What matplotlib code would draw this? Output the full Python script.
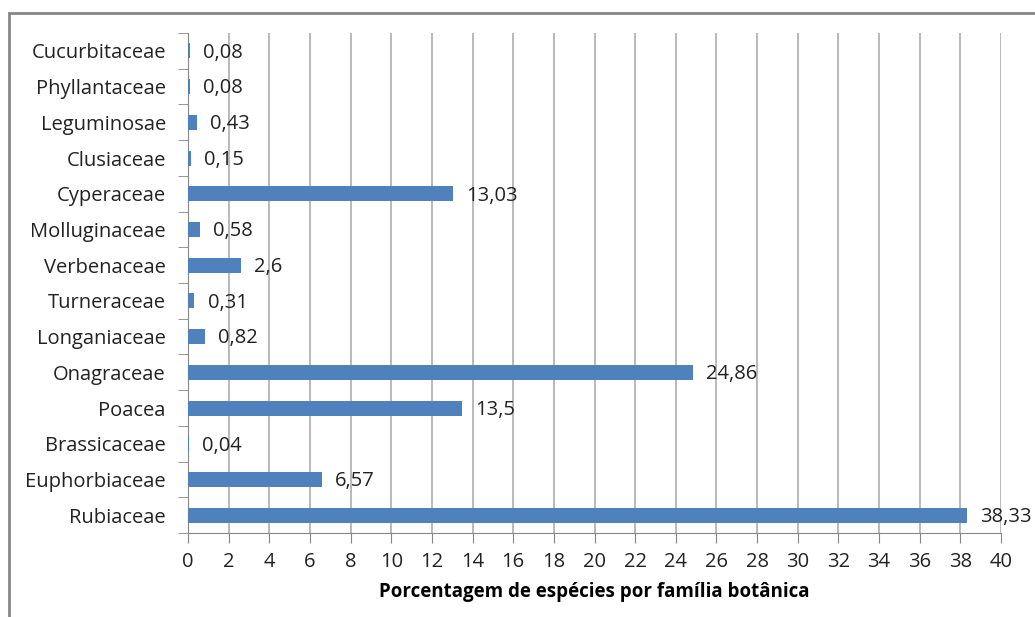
import matplotlib.pyplot as plt
from matplotlib.patches import Rectangle

familias = ['Rubiaceae', 'Euphorbiaceae', 'Brassicaceae', 'Poacea', 'Onagraceae',
            'Longaniaceae', 'Turneraceae', 'Verbenaceae', 'Molluginaceae',
            'Cyperaceae', 'Clusiaceae', 'Leguminosae', 'Phyllantaceae', 'Cucurbitaceae']
porcentagem = [38.33, 6.57, 0.04, 13.5, 24.86, 0.82, 0.31, 2.6, 0.58,
               13.03, 0.15, 0.43, 0.08, 0.08]
rotulos = ['38,33', '6,57', '0,04', '13,5', '24,86', '0,82', '0,31', '2,6', '0,58',
           '13,03', '0,15', '0,43', '0,08', '0,08']

plt.rcParams['font.family'] = ['Open Sans', 'DejaVu Sans']

fig = plt.figure(figsize=(10.35, 6.17), dpi=100)
ax = fig.add_axes([188 / 1035, 1 - 533 / 617, (1001 - 188) / 1035, 500 / 617])

# outer frame of the chart area (runs off the right and bottom edges)
fig.patches.append(Rectangle((9 / 1035, -0.1), 1.2, 1 - 13 / 617 + 0.1,
                             transform=fig.transFigure, fill=False,
                             edgecolor='#868686', linewidth=2))

y = range(len(familias))
ax.barh(y, porcentagem, height=0.42, color='#4f81bd', zorder=3)
for yi, v, txt in zip(y, porcentagem, rotulos):
    ax.text(v + 0.65, yi - 0.05, txt, va='center', ha='left', fontsize=14.5, color='#222222')

ax.set_xlim(0, 40)
ax.set_ylim(-0.5, len(familias) - 0.5)
ax.set_xticks(range(0, 41, 2))
ax.xaxis.grid(True, color='#b3b3b3', linewidth=1.3, zorder=0)

ax.set_yticks(y)
ax.set_yticklabels(familias, fontsize=14.5, color='#222222')
ax.set_yticks([i - 0.5 for i in range(len(familias) + 1)], minor=True)
ax.tick_params(axis='y', which='major', length=0, pad=16)
ax.tick_params(axis='y', which='minor', length=7, color='#868686')
ax.tick_params(axis='x', length=7, color='#868686', labelsize=14.5,
               labelcolor='#222222', pad=7)

for s in ['top', 'right']:
    ax.spines[s].set_visible(False)
for s in ['left', 'bottom']:
    ax.spines[s].set_color('#868686')

ax.set_xlabel('Porcentagem de espécies por família botânica', fontsize=13.5,
              fontweight='bold', labelpad=7)

fig.savefig('out.png', dpi=100)
